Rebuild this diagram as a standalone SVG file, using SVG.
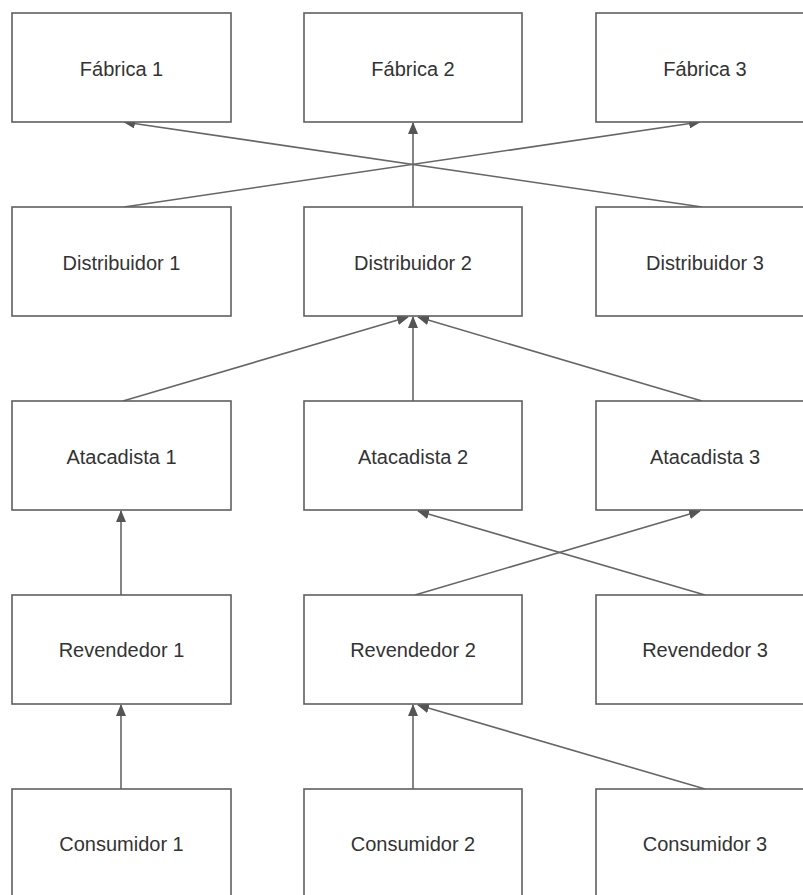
<svg xmlns="http://www.w3.org/2000/svg" width="803" height="895" viewBox="0 0 803 895">
<style>
.box{fill:#fff;stroke:#5f5f5f;stroke-width:1.6}
.lbl{font-family:"Liberation Sans",Arial,sans-serif;font-size:20px;fill:#333;text-anchor:middle}
.c{fill:none;stroke:#666;stroke-width:1.6;marker-end:url(#ah)}
</style>
<defs>
<marker id="ah" viewBox="0 0 12 10" refX="11" refY="5" markerWidth="12" markerHeight="10" markerUnits="userSpaceOnUse" orient="auto">
<path d="M0,0 L12,5 L0,10 z" fill="#555"/>
</marker>
</defs>
<rect width="803" height="895" fill="#fff"/>
<g id="connectors">
<path class="c" d="M124,207 L700,122"/>
<path class="c" d="M702,207 L124,122"/>
<path class="c" d="M413,207 L413,123"/>
<path class="c" d="M123,401 L408,317"/>
<path class="c" d="M413,401 L413,317"/>
<path class="c" d="M702,401 L418,317"/>
<path class="c" d="M121,595 L121,511"/>
<path class="c" d="M415,595 L700,511"/>
<path class="c" d="M705,595 L418,511"/>
<path class="c" d="M121,789 L121,705"/>
<path class="c" d="M413,789 L413,705"/>
<path class="c" d="M705,789 L418,705"/>
</g>
<g id="fabrica1"><rect class="box" x="12" y="13" width="219" height="109"/><text class="lbl" x="121.5" y="76">Fábrica 1</text></g>
<g id="fabrica2"><rect class="box" x="304" y="13" width="218" height="109"/><text class="lbl" x="413" y="76">Fábrica 2</text></g>
<g id="fabrica3"><rect class="box" x="596" y="13" width="220" height="109"/><text class="lbl" x="705" y="76">Fábrica 3</text></g>
<g id="distribuidor1"><rect class="box" x="12" y="207" width="219" height="109"/><text class="lbl" x="121.5" y="270">Distribuidor 1</text></g>
<g id="distribuidor2"><rect class="box" x="304" y="207" width="218" height="109"/><text class="lbl" x="413" y="270">Distribuidor 2</text></g>
<g id="distribuidor3"><rect class="box" x="596" y="207" width="220" height="109"/><text class="lbl" x="705" y="270">Distribuidor 3</text></g>
<g id="atacadista1"><rect class="box" x="12" y="401" width="219" height="109"/><text class="lbl" x="121.5" y="464">Atacadista 1</text></g>
<g id="atacadista2"><rect class="box" x="304" y="401" width="218" height="109"/><text class="lbl" x="413" y="464">Atacadista 2</text></g>
<g id="atacadista3"><rect class="box" x="596" y="401" width="220" height="109"/><text class="lbl" x="705" y="464">Atacadista 3</text></g>
<g id="revendedor1"><rect class="box" x="12" y="595" width="219" height="109"/><text class="lbl" x="121.5" y="657">Revendedor 1</text></g>
<g id="revendedor2"><rect class="box" x="304" y="595" width="218" height="109"/><text class="lbl" x="413" y="657">Revendedor 2</text></g>
<g id="revendedor3"><rect class="box" x="596" y="595" width="220" height="109"/><text class="lbl" x="705" y="657">Revendedor 3</text></g>
<g id="consumidor1"><rect class="box" x="12" y="789" width="219" height="120"/><text class="lbl" x="121.5" y="851">Consumidor 1</text></g>
<g id="consumidor2"><rect class="box" x="304" y="789" width="218" height="120"/><text class="lbl" x="413" y="851">Consumidor 2</text></g>
<g id="consumidor3"><rect class="box" x="596" y="789" width="220" height="120"/><text class="lbl" x="705" y="851">Consumidor 3</text></g>
</svg>
